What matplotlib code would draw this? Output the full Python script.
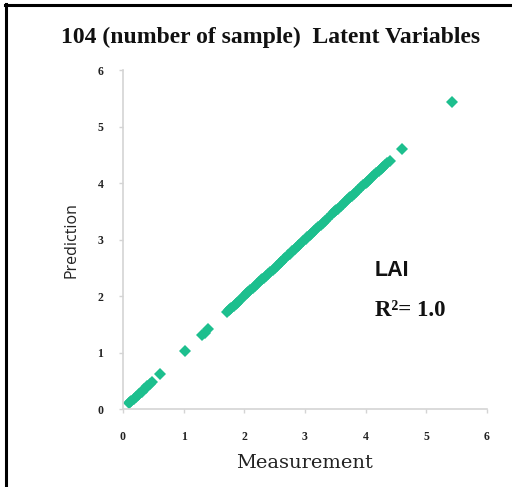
import matplotlib.pyplot as plt
from matplotlib.lines import Line2D

# LAI: measured vs predicted (104 samples)
measurement = [
    0.10, 0.12, 0.14, 0.18, 0.22, 0.25, 0.27, 0.31, 0.35, 0.38, 0.40, 0.45, 0.48,
    0.62, 1.02, 1.31, 1.35, 1.41,
    1.72, 1.75, 1.77, 1.79, 1.83, 1.86, 1.88, 1.90, 1.93,
    2.00, 2.03, 2.05, 2.07, 2.10, 2.14, 2.18, 2.21, 2.25, 2.28, 2.30, 2.32, 2.36, 2.39, 2.43, 2.47,
    2.50, 2.54, 2.57, 2.60, 2.61, 2.65, 2.68, 2.72, 2.75, 2.79, 2.83, 2.86, 2.88, 2.90, 2.94, 2.97,
    3.01, 3.04, 3.08, 3.10, 3.12, 3.15, 3.19, 3.22, 3.26, 3.30, 3.33, 3.37,
    3.45, 3.48, 3.50, 3.52, 3.55, 3.59, 3.63, 3.66, 3.70, 3.73, 3.75, 3.77, 3.81, 3.84, 3.87,
    3.93, 3.96, 4.00, 4.02, 4.04, 4.07, 4.11, 4.14, 4.18, 4.22, 4.25, 4.27, 4.29, 4.32, 4.36, 4.40,
    4.60, 5.43,
]
prediction = [
    0.10, 0.12, 0.14, 0.18, 0.22, 0.25, 0.27, 0.31, 0.35, 0.38, 0.40, 0.45, 0.48,
    0.62, 1.02, 1.31, 1.35, 1.41,
    1.72, 1.75, 1.77, 1.79, 1.83, 1.86, 1.88, 1.90, 1.93,
    2.00, 2.03, 2.05, 2.07, 2.10, 2.14, 2.18, 2.21, 2.25, 2.28, 2.30, 2.32, 2.36, 2.39, 2.43, 2.47,
    2.50, 2.54, 2.57, 2.60, 2.61, 2.65, 2.68, 2.72, 2.75, 2.79, 2.83, 2.86, 2.88, 2.90, 2.94, 2.97,
    3.01, 3.04, 3.08, 3.10, 3.12, 3.15, 3.19, 3.22, 3.26, 3.30, 3.33, 3.37,
    3.45, 3.48, 3.50, 3.52, 3.55, 3.59, 3.63, 3.66, 3.70, 3.73, 3.75, 3.77, 3.81, 3.84, 3.87,
    3.93, 3.96, 4.00, 4.02, 4.04, 4.07, 4.11, 4.14, 4.18, 4.22, 4.25, 4.27, 4.29, 4.32, 4.36, 4.40,
    4.60, 5.43,
]
ticks = [0, 1, 2, 3, 4, 5, 6]
title = "104 (number of sample)  Latent Variables"

fig = plt.figure(figsize=(5.12, 4.87), dpi=100)
ax = fig.add_axes([0.240, 0.160, 0.711, 0.696])

ax.plot(measurement, prediction, linestyle="none", marker="D", markersize=6,
        color="#1dbf8e", markeredgewidth=0)

ax.set_xlim(0, 6)
ax.set_ylim(0, 6)
ax.set_xticks(ticks)
ax.set_yticks(ticks)
for s in ("top", "right"):
    ax.spines[s].set_visible(False)
for s in ("left", "bottom"):
    ax.spines[s].set_color("#d4d4d4")
    ax.spines[s].set_linewidth(1.2)
ax.tick_params(colors="#d4d4d4", length=3, width=1, labelcolor="#222222")
ax.tick_params(axis="x", pad=13)
ax.tick_params(axis="y", pad=11)
for lab in ax.get_xticklabels() + ax.get_yticklabels():
    lab.set_fontfamily("Liberation Serif")
    lab.set_fontweight("bold")
    lab.set_fontsize(8.5)

ax.set_xlabel("Measurement", fontfamily="DejaVu Serif", fontsize=14, labelpad=8, color="#222222")
ax.set_ylabel("Prediction", fontfamily="Open Sans", fontsize=11.5, labelpad=13, color="#222222")

fig.text(0.528, 0.924, title, ha="center", va="center", fontfamily="Liberation Serif",
         fontweight="bold", fontsize=17, color="#111111")

ax.text(4.15, 2.46, "LAI", ha="left", va="center", fontfamily="Liberation Sans",
        fontweight="bold", fontsize=15.5, color="#111111")
ax.text(4.15, 1.75, "R\u00b2= 1.0", ha="left", va="center", fontfamily="Liberation Serif",
        fontweight="bold", fontsize=16.5, color="#111111")

# frame lines on left and top edge
fig.add_artist(Line2D([0.012, 0.012], [0.0, 0.991], transform=fig.transFigure, color="black", lw=2.2))
fig.add_artist(Line2D([0.010, 1.0], [0.990, 0.990], transform=fig.transFigure, color="black", lw=2.2))

fig.savefig("out.png", dpi=100)
